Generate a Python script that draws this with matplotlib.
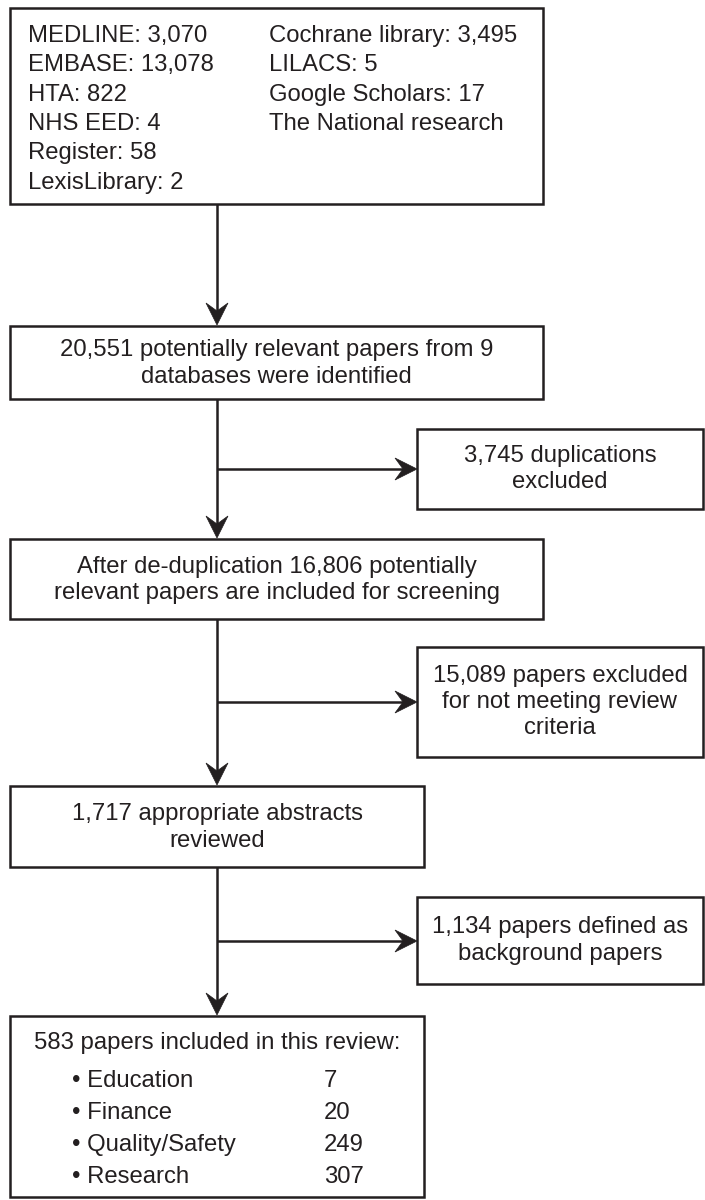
import matplotlib
matplotlib.use("Agg")
import matplotlib.pyplot as plt
from matplotlib.patches import Rectangle, Polygon

plt.rcParams['font.family'] = ['Liberation Sans', 'DejaVu Sans']

# ---- data (texts of the flow diagram) ----
sources_left = ["MEDLINE: 3,070", "EMBASE: 13,078", "HTA: 822", "NHS EED: 4",
                "Register: 58", "LexisLibrary: 2"]
sources_right = ["Cochrane library: 3,495", "LILACS: 5", "Google Scholars: 17",
                 "The National research"]
main_steps = ["20,551 potentially relevant papers from 9\ndatabases were identified",
              "After de-duplication 16,806 potentially\nrelevant papers are included for screening",
              "1,717 appropriate abstracts\nreviewed"]
excluded = ["3,745 duplications\nexcluded",
            "15,089 papers excluded\nfor not meeting review\ncriteria",
            "1,134 papers defined as\nbackground papers"]
final_title = "583 papers included in this review:"
categories = ["Education", "Finance", "Quality/Safety", "Research"]
counts = [7, 20, 249, 307]

W, H = 705, 1200
fig = plt.figure(figsize=(W / 100, H / 100), dpi=100)
ax = fig.add_axes([0, 0, 1, 1])
ax.set_xlim(0, W)
ax.set_ylim(H, 0)
ax.axis("off")

EC = "#231f20"
LW = 1.8
FS = 17.2
LS = 1.25


def box(x0, y0, x1, y1):
    ax.add_patch(Rectangle((x0, y0), x1 - x0, y1 - y0, fill=False,
                           edgecolor=EC, linewidth=LW, zorder=2))


def head(xt, yt, direction):
    L, Wd, notch = 22, 11, 8
    if direction == "down":
        pts = [(xt, yt), (xt - Wd, yt - L), (xt, yt - L + notch), (xt + Wd, yt - L)]
    else:  # right
        pts = [(xt, yt), (xt - L, yt - Wd), (xt - L + notch, yt), (xt - L, yt + Wd)]
    ax.add_patch(Polygon(pts, closed=True, facecolor=EC, edgecolor=EC,
                         linewidth=0.5, zorder=3))


def vline(x, y0, y1):
    ax.plot([x, x], [y0, y1], color=EC, lw=LW, solid_capstyle="butt", zorder=1)


def hline(y, x0, x1):
    ax.plot([x0, x1], [y, y], color=EC, lw=LW, solid_capstyle="butt", zorder=1)


AX = 217  # x of main flow line

# top box of sources
box(10, 8, 543, 204)
y = 36
for t in sources_left:
    ax.text(28, y, t, fontsize=FS, color=EC, va="center", ha="left")
    y += 29.3
y = 36
for t in sources_right:
    ax.text(269, y, t, fontsize=FS, color=EC, va="center", ha="left")
    y += 29.3

# arrow to box 2
vline(AX, 204, 312)
head(AX, 325, "down")

# main boxes
main_boxes = [(10, 326, 543, 399), (10, 539, 543, 619), (10, 786, 424, 867)]
for (x0, y0, x1, y1), t in zip(main_boxes, main_steps):
    box(x0, y0, x1, y1)
    ax.text((x0 + x1) / 2, (y0 + y1) / 2 + 1, t, fontsize=FS, color=EC,
            ha="center", va="center", linespacing=LS, multialignment="center")

# side boxes
side_boxes = [(417, 429, 703, 509), (417, 647, 703, 757), (417, 897, 703, 984)]
branch_y = [469, 702, 941]
for (x0, y0, x1, y1), t in zip(side_boxes, excluded):
    box(x0, y0, x1, y1)
    ax.text((x0 + x1) / 2, (y0 + y1) / 2, t, fontsize=FS, color=EC,
            ha="center", va="center", linespacing=LS, multialignment="center")

# connections between main boxes with branches
final_box = (10, 1016, 424, 1197)
tops = [main_boxes[1][1], main_boxes[2][1], final_box[1]]
bottoms = [main_boxes[0][3], main_boxes[1][3], main_boxes[2][3]]
for yb, yt, by, sb in zip(bottoms, tops, branch_y, side_boxes):
    vline(AX, yb, yt - 12)
    head(AX, yt - 1, "down")
    hline(by, AX, sb[0] - 12)
    head(sb[0], by, "right")

# final box
box(*final_box)
ax.text((final_box[0] + final_box[2]) / 2, 1043, final_title, fontsize=FS,
        color=EC, ha="center", va="center")
y = 1081
for c, n in zip(categories, counts):
    ax.text(72, y, "\u2022 " + c, fontsize=FS, color=EC, ha="left", va="center")
    ax.text(324, y, str(n), fontsize=FS, color=EC, ha="left", va="center")
    y += 32

fig.savefig("out.png", dpi=100, facecolor="white")
